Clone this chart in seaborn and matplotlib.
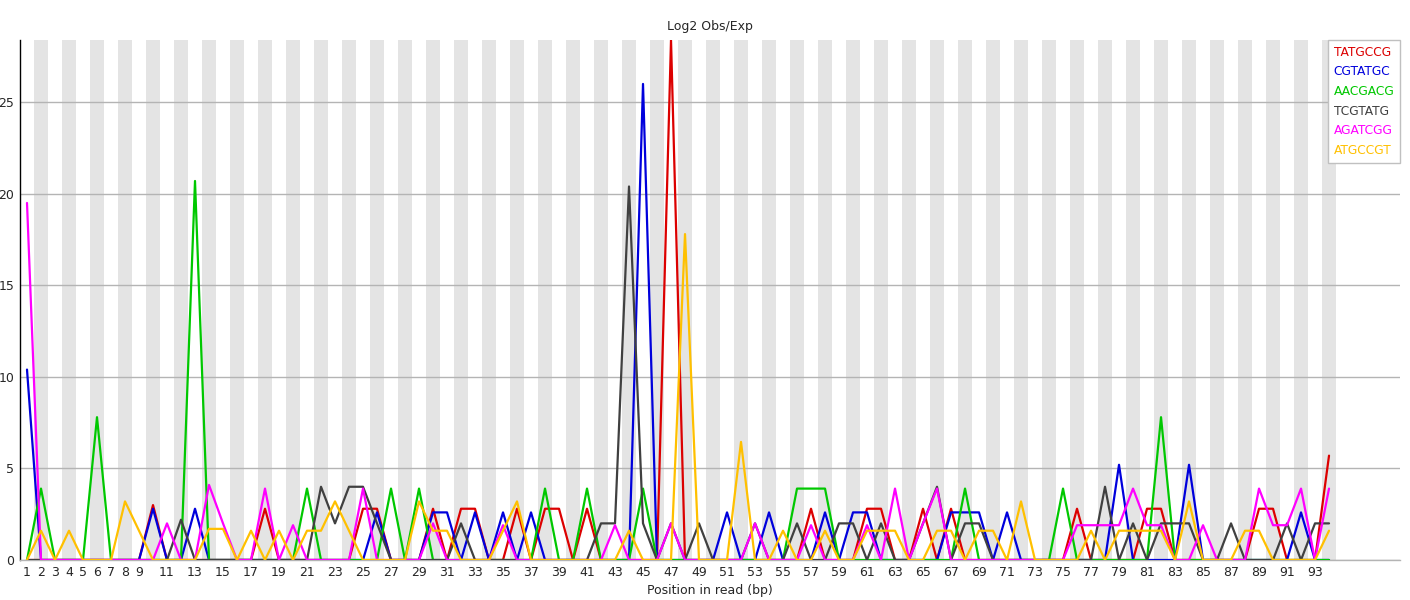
import seaborn as sns
import pandas as pd
import matplotlib.pyplot as plt
from matplotlib.lines import Line2D

# Kmer content values (log2 obs/exp) per position 1..94
positions = list(range(1, 95))
kmers = ['TATGCCG', 'CGTATGC', 'AACGACG', 'TCGTATG', 'AGATCGG', 'ATGCCGT']
colors = ['#dc0000', '#0000dc', '#00c800', '#404040', '#ff00ff', '#ffc000']

tatgccg = [0, 0, 0, 0, 0, 0, 0, 0, 0, 3.0,
           0, 0, 0, 0, 0, 0, 0, 2.8, 0, 0,
           0, 0, 0, 0, 2.8, 2.8, 0, 0, 0, 2.8,
           0, 2.8, 2.8, 0, 0, 2.8, 0, 2.8, 2.8, 0,
           2.8, 0, 0, 0, 0, 0, 28.4, 0, 0, 0,
           0, 0, 0, 0, 0, 0, 2.8, 0, 0, 0,
           2.8, 2.8, 0, 0, 2.8, 0, 2.8, 0, 0, 0,
           0, 0, 0, 0, 0, 2.8, 0, 0, 0, 0,
           2.8, 2.8, 0, 0, 0, 0, 0, 0, 2.8, 2.8,
           0, 0, 0, 5.7]
cgtatgc = [10.4, 0, 0, 0, 0, 0, 0, 0, 0, 2.8,
           0, 0, 2.8, 0, 0, 0, 0, 0, 0, 0,
           0, 0, 0, 0, 0, 2.6, 0, 0, 0, 2.6,
           2.6, 0, 2.6, 0, 2.6, 0, 2.6, 0, 0, 0,
           0, 0, 0, 0, 26.0, 0, 0, 0, 0, 0,
           2.6, 0, 0, 2.6, 0, 0, 0, 2.6, 0, 2.6,
           2.6, 0, 0, 0, 0, 0, 2.6, 2.6, 2.6, 0,
           2.6, 0, 0, 0, 0, 0, 0, 0, 5.2, 0,
           0, 0, 0, 5.2, 0, 0, 0, 0, 0, 0,
           0, 2.6, 0, 0]
aacgacg = [0, 3.9, 0, 0, 0, 7.8, 0, 0, 0, 0,
           0, 0, 20.7, 0, 0, 0, 0, 0, 0, 0,
           3.9, 0, 0, 0, 0, 0, 3.9, 0, 3.9, 0,
           0, 0, 0, 0, 0, 0, 0, 3.9, 0, 0,
           3.9, 0, 0, 0, 3.9, 0, 0, 0, 0, 0,
           0, 0, 0, 0, 0, 3.9, 3.9, 3.9, 0, 0,
           0, 0, 0, 0, 0, 0, 0, 3.9, 0, 0,
           0, 0, 0, 0, 3.9, 0, 0, 0, 0, 0,
           0, 7.8, 0, 0, 0, 0, 0, 0, 0, 0,
           0, 0, 0, 0]
tcgtatg = [0, 0, 0, 0, 0, 0, 0, 0, 0, 0,
           0, 2.2, 0, 0, 0, 0, 0, 0, 0, 0,
           0, 4.0, 2.0, 4.0, 4.0, 2.0, 0, 0, 0, 0,
           0, 2.0, 0, 0, 0, 0, 0, 0, 0, 0,
           0, 2.0, 2.0, 20.4, 2.0, 0, 2.0, 0, 2.0, 0,
           0, 0, 2.0, 0, 0, 2.0, 0, 0, 2.0, 2.0,
           0, 2.0, 0, 0, 2.0, 4.0, 0, 2.0, 2.0, 0,
           0, 0, 0, 0, 0, 0, 0, 4.0, 0, 2.0,
           0, 2.0, 2.0, 2.0, 0, 0, 2.0, 0, 0, 0,
           2.0, 0, 2.0, 2.0]
agatcgg = [19.5, 0, 0, 0, 0, 0, 0, 0, 0, 0,
           2.0, 0, 0, 4.1, 2.0, 0, 0, 3.9, 0, 1.9,
           0, 0, 0, 0, 3.9, 0, 0, 0, 0, 2.0,
           0, 0, 0, 0, 1.9, 0, 0, 0, 0, 0,
           0, 0, 1.9, 0, 0, 0, 2.0, 0, 0, 0,
           0, 0, 2.0, 0, 0, 0, 1.9, 0, 0, 0,
           1.9, 0, 3.9, 0, 2.0, 3.9, 0, 0, 0, 0,
           0, 0, 0, 0, 0, 1.9, 1.9, 1.9, 1.9, 3.9,
           1.9, 1.9, 0, 0, 1.9, 0, 0, 0, 3.9, 1.9,
           1.9, 3.9, 0, 3.9]
atgccgt = [0, 1.6, 0, 1.6, 0, 0, 0, 3.2, 1.6, 0,
           0, 0, 0, 1.7, 1.7, 0, 1.6, 0, 1.6, 0,
           1.6, 1.6, 3.2, 1.6, 0, 0, 0, 0, 3.2, 1.6,
           1.6, 0, 0, 0, 1.6, 3.2, 0, 0, 0, 0,
           0, 0, 0, 1.6, 0, 0, 0, 17.8, 0, 0,
           0, 6.45, 0, 0, 1.6, 0, 0, 1.6, 0, 0,
           1.6, 1.6, 1.6, 0, 0, 1.6, 1.6, 0, 1.6, 1.6,
           0, 3.2, 0, 0, 0, 0, 1.6, 0, 1.6, 1.6,
           1.6, 1.6, 0, 3.2, 0, 0, 0, 1.6, 1.6, 0,
           0, 0, 0, 1.6]

tick_labels = [str(p) for p in positions if p < 10 or p % 2 == 1]

series = [tatgccg, cgtatgc, aacgacg, tcgtatg, agatcgg, atgccgt]
df = pd.concat([pd.DataFrame({'pos': positions, 'value': v, 'kmer': k})
                for k, v in zip(kmers, series)])

sns.set_style('white')
plt.rcParams['font.family'] = ['DejaVu Sans']

fig = plt.figure(figsize=(14.1, 6), dpi=100)
ax = fig.add_axes([20 / 1410, 40 / 600, 1380 / 1410, 520 / 600])

# alternating grey bands behind every other position
for p in positions:
    if p % 2 == 0:
        ax.axvspan(p - 0.5, p + 0.5, color='#e4e4e4', lw=0, zorder=0)

sns.lineplot(data=df, x='pos', y='value', hue='kmer', hue_order=kmers,
             palette=colors, linewidth=1.6, legend=False, ax=ax, zorder=3)

ax.set_xlim(0.5, 99.07)
ax.set_ylim(0, 28.4)
ax.set_yticks([0, 5, 10, 15, 20, 25])
ax.set_xticks([int(t) for t in tick_labels])
ax.set_xticklabels(tick_labels)
ax.yaxis.grid(True, color='#b4b4b4', linewidth=1)
ax.set_axisbelow(True)
ax.tick_params(axis='both', length=0, labelsize=9, pad=4)

for s in ['top', 'right']:
    ax.spines[s].set_visible(False)
ax.spines['left'].set_color('black')
ax.spines['left'].set_linewidth(1)
ax.spines['bottom'].set_color('#b4b4b4')
ax.spines['bottom'].set_linewidth(1)

ax.set_title('Log2 Obs/Exp', fontsize=9, pad=7)
ax.set_xlabel('Position in read (bp)', fontsize=9, labelpad=4)
ax.set_ylabel('')

handles = [Line2D([], [], linestyle='none') for _ in kmers]
leg = ax.legend(handles, kmers, loc='upper right', bbox_to_anchor=(1.0, 1.0),
                borderaxespad=0, handlelength=0, handletextpad=0,
                fontsize=8.8, labelspacing=0.55, frameon=True, fancybox=False,
                framealpha=1, edgecolor='#c0c0c0', borderpad=0.45,
                labelcolor=colors)
leg.get_frame().set_linewidth(1)

plt.savefig('out.png', dpi=100)
